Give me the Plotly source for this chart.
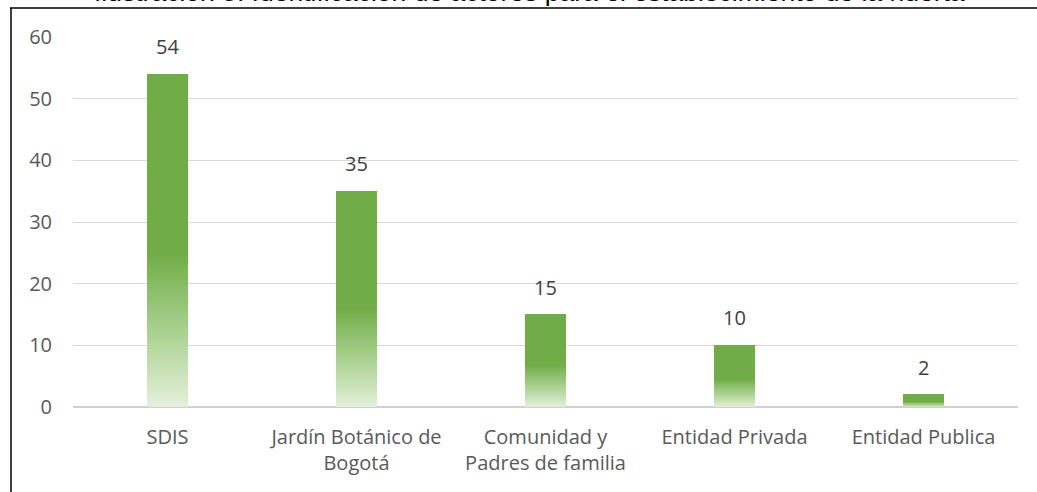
import plotly.graph_objects as go

categories = ["SDIS", "Jardín Botánico de<br>Bogotá", "Comunidad y<br>Padres de familia",
              "Entidad Privada", "Entidad Publica"]
values = [54, 35, 15, 10, 2]
y_ticks = [0, 10, 20, 30, 40, 50, 60]
title_text = "Ilustración 5. Identificación de actores para el establecimiento de la huerta"

W, H = 1037, 492
ML, MR, MT, MB = 73, 19, 37, 85
PW, PH = W - ML - MR, H - MT - MB

# gradient: bottom pale -> solid green from ~46% of height upward
top_rgb = (112, 173, 71)
mid_rgb = (169, 209, 142)
bot_rgb = (228, 240, 219)
N = 120
def col(f):
    stop = 0.46
    if f >= stop:
        r = top_rgb
    else:
        t = f / stop
        if t < 0.5:
            a, b, u = bot_rgb, mid_rgb, t / 0.5
        else:
            a, b, u = mid_rgb, top_rgb, (t - 0.5) / 0.5
        r = tuple(a[k] + (b[k] - a[k]) * u for k in range(3))
    return "rgb(%d,%d,%d)" % tuple(round(v) for v in r)

fig = go.Figure()
for i in range(N):
    fig.add_trace(go.Bar(
        x=categories, y=[v / N for v in values],
        marker=dict(color=col((i + 0.5) / N), line=dict(width=0)),
        width=0.22, hoverinfo="skip", showlegend=False))

FONT = "Open Sans"

def px(p): return (p - ML) / PW
def py(p): return (H - MB - p) / PH

annotations = [dict(x=c, y=v, text=str(v), xref="x", yref="y", showarrow=False,
                    yanchor="bottom", yshift=12,
                    font=dict(family=FONT, size=20, color="#404040"))
               for c, v in zip(categories, values)]
annotations.append(dict(text=title_text, xref="paper", yref="paper", x=px(529), y=py(9),
                        xanchor="center", yanchor="bottom", showarrow=False,
                        font=dict(family="Liberation Sans", size=26.5, color="black")))

fig.update_layout(
    width=W, height=H, barmode="stack", bargap=0.78,
    margin=dict(l=ML, r=MR, t=MT, b=MB),
    paper_bgcolor="white", plot_bgcolor="white",
    xaxis=dict(showgrid=False, showline=False, ticks="",
               tickfont=dict(family=FONT, size=20, color="#595959"), ticklabelstandoff=16),
    yaxis=dict(range=[0, 60], tickvals=y_ticks, showgrid=True, gridcolor="#d9d9d9", gridwidth=1,
               zeroline=True, zerolinecolor="#d0d0d0", zerolinewidth=2,
               tickfont=dict(family=FONT, size=20, color="#595959"), ticklabelstandoff=20),
    shapes=[
        dict(type="line", xref="paper", yref="paper", x0=px(10), x1=px(1040), y0=py(8), y1=py(8),
             line=dict(color="black", width=1.5)),
        dict(type="line", xref="paper", yref="paper", x0=px(11), x1=px(11), y0=py(8), y1=py(495),
             line=dict(color="black", width=1.5)),
    ],
    annotations=annotations,
)
fig.write_html("out.html", config={"displayModeBar": False},
               post_script="document.body.style.margin='0';")
